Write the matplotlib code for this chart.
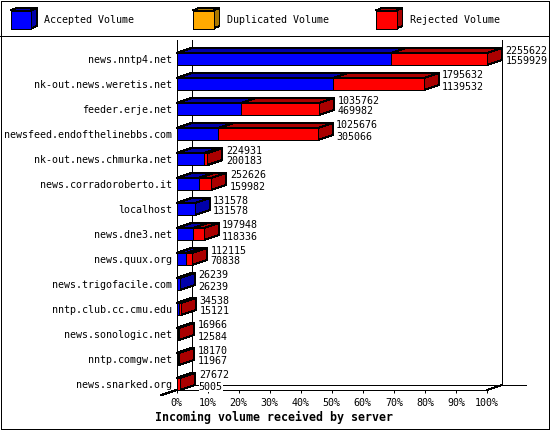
import matplotlib
matplotlib.use('Agg')
import matplotlib.pyplot as plt
from matplotlib.patches import Polygon, Rectangle

servers = ['news.nntp4.net', 'nk-out.news.weretis.net', 'feeder.erje.net',
           'newsfeed.endofthelinebbs.com', 'nk-out.news.chmurka.net',
           'news.corradoroberto.it', 'localhost', 'news.dne3.net',
           'news.quux.org', 'news.trigofacile.com', 'nntp.club.cc.cmu.edu',
           'news.sonologic.net', 'nntp.comgw.net', 'news.snarked.org']
total = [2255622, 1795632, 1035762, 1025676, 224931, 252626, 131578,
         197948, 112115, 26239, 34538, 16966, 18170, 27672]
accepted = [1559929, 1139532, 469982, 305066, 200183, 159982, 131578,
            118336, 70838, 26239, 15121, 12584, 11967, 5005]
legend_names = ['Accepted Volume', 'Duplicated Volume', 'Rejected Volume']
ticks = list(range(0, 101, 10))

BLUE, DARK_BLUE = '#0000ff', '#0000aa'
RED, DARK_RED = '#ff0000', '#aa0000'
ORANGE, DARK_ORANGE = '#ffaa00', '#aa7700'

plt.rcParams['font.family'] = ['DejaVu Sans Mono']
plt.rcParams['lines.antialiased'] = False
plt.rcParams['patch.antialiased'] = False

LW = 0.72
W, H = 550, 430
fig = plt.figure(figsize=(W/100, H/100), dpi=100, facecolor='white')

# pixel layer for frame and legend
deco = fig.add_axes([0, 0, 1, 1])
deco.set_xlim(0, W)
deco.set_ylim(H, 0)
deco.axis('off')
deco.add_patch(Rectangle((0.5, 0.5), W-1.5, H-1.5, fc='none', ec='k', lw=LW))
deco.plot([0, W-1], [35.5, 35.5], 'k', lw=LW)


def box(ax, x0, x1, y0, y1, dx, dy, front, dark, side=True):
    ax.add_patch(Polygon([(x0, y0), (x1, y0), (x1+dx, y0-dy), (x0+dx, y0-dy)],
                         fc=dark, ec='k', lw=LW, clip_on=False, zorder=3))
    if side:
        ax.add_patch(Polygon([(x1, y0), (x1+dx, y0-dy), (x1+dx, y1-dy), (x1, y1)],
                             fc=dark, ec='k', lw=LW, clip_on=False, zorder=3))
    ax.add_patch(Rectangle((x0, y0), x1-x0, y1-y0,
                           fc=front, ec='k', lw=LW, clip_on=False, zorder=3))


swatches = [(10.5, BLUE, DARK_BLUE, 44.5), (193, ORANGE, DARK_ORANGE, 227),
            (376, RED, DARK_RED, 410)]
for (sx, c, d, tx), name in zip(swatches, legend_names):
    box(deco, sx, sx+20.5, 10.5, 28.5, 6, 2.5, c, d)
    deco.text(tx, 20, name, fontsize=7.2, va='center', ha='left')

deco.text(274, 417, 'Incoming volume received by server', fontsize=8.4,
          fontweight='bold', ha='center', va='center')

# chart layer, x in percent of the biggest total, y in rows
ax = fig.add_axes([176.5/W, 1-390/H, 310.5/W, 350/H])
ax.patch.set_alpha(0)
ax.set_xlim(0, 100)
ax.set_ylim(13.24, -0.76)
for s in ['top', 'right']:
    ax.spines[s].set_visible(False)
ax.spines['left'].set_linewidth(LW)
ax.spines['bottom'].set_linewidth(LW)

DX = 15/3.105
DY = 5/25
HALF = 6/25
back_bottom = 13.24 - DY

ax.plot([DX, DX], [-0.76, back_bottom], 'k', lw=LW, clip_on=False, zorder=1)
ax.plot([100+DX, 100+DX], [-0.76, back_bottom], 'k', lw=LW, clip_on=False, zorder=1)
ax.plot([DX, 100+DX+24/3.105], [back_bottom, back_bottom], 'k', lw=LW, clip_on=False, zorder=1)
ax.plot([-DX, DX], [13.24+DY, back_bottom], 'k', lw=LW, clip_on=False, zorder=1)
ax.plot([100, 100+DX], [13.24, back_bottom], 'k', lw=LW, clip_on=False, zorder=1)

biggest = max(total)
for row, (t, a) in enumerate(zip(total, accepted)):
    end_a = 100*a/biggest
    end_t = 100*t/biggest
    box(ax, 0, end_a, row-HALF, row+HALF, DX, DY, BLUE, DARK_BLUE, side=t == a)
    if t > a:
        box(ax, end_a, end_t, row-HALF, row+HALF, DX, DY, RED, DARK_RED)
    for val, off in ((t, 8.5), (a, -2.5)):
        ax.annotate(str(val), xy=(end_t+DX, row), xytext=(3.5, off),
                    textcoords='offset pixels', fontsize=7.2, va='center',
                    ha='left', zorder=4, annotation_clip=False,
                    bbox=dict(fc='white', ec='none', pad=0))

ax.set_yticks(range(len(servers)))
ax.set_yticklabels(servers, fontsize=7.2)
ax.tick_params(axis='y', length=0, pad=3.2)
ax.set_xticks(ticks)
ax.set_xticklabels([f'{v}%' for v in ticks], fontsize=7.2)
ax.tick_params(axis='x', length=2.2, width=LW, pad=3.2)

fig.savefig('out.png', dpi=100)
